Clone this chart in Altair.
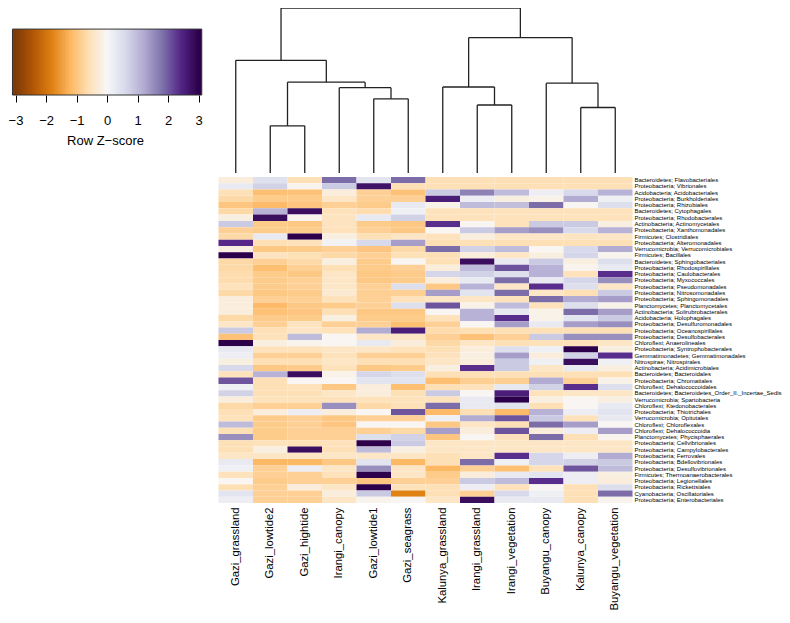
import altair as alt
import pandas as pd
import numpy as np

samples = ["Gazi_grassland", "Gazi_lowtide2", "Gazi_hightide", "Irangi_canopy",
           "Gazi_lowtide1", "Gazi_seagrass", "Kalunya_grassland", "Irangi_grassland",
           "Irangi_vegetation", "Buyangu_canopy", "Kalunya_canopy", "Buyangu_vegetation"]

taxa = [
    "Bacteroidetes; Flavobacteriales", "Proteobacteria; Vibrionales",
    "Acidobacteria; Acidobacteriales", "Proteobacteria; Burkholderiales",
    "Proteobacteria; Rhizobiales", "Bacteroidetes; Cytophagales",
    "Proteobacteria; Rhodobacterales", "Actinobacteria; Actinomycetales",
    "Proteobacteria; Xanthomonadales", "Firmicutes; Clostridiales",
    "Proteobacteria; Alteromonadales", "Verrucomicrobia; Verrucomicrobiales",
    "Firmicutes; Bacillales", "Bacteroidetes; Sphingobacteriales",
    "Proteobacteria; Rhodospirillales", "Proteobacteria; Caulobacterales",
    "Proteobacteria; Myxococcales", "Proteobacteria; Pseudomonadales",
    "Proteobacteria; Nitrosomonadales", "Proteobacteria; Sphingomonadales",
    "Planctomycetes; Planctomycetales", "Actinobacteria; Solirubrobacterales",
    "Acidobacteria; Holophagales", "Proteobacteria; Desulfuromonadales",
    "Proteobacteria; Oceanospirillales", "Proteobacteria; Desulfobacterales",
    "Chloroflexi; Anaerolineales", "Proteobacteria; Syntrophobacterales",
    "Gemmatimonadetes; Gemmatimonadales", "Nitrospirae; Nitrospirales",
    "Actinobacteria; Acidimicrobiales", "Bacteroidetes; Bacteroidales",
    "Proteobacteria; Chromatiales", "Chloroflexi; Dehalococcoidales",
    "Bacteroidetes; Bacteroidetes_Order_II._Incertae_Sedis", "Verrucomicrobia; Spartobacteria",
    "Chloroflexi; Ktedonobacterales", "Proteobacteria; Thiotrichales",
    "Verrucomicrobia; Opitutales", "Chloroflexi; Chloroflexales",
    "Chloroflexi; Dehalococcoidia", "Planctomycetes; Phycisphaerales",
    "Proteobacteria; Cellvibrionales", "Proteobacteria; Campylobacterales",
    "Proteobacteria; Ferrovales", "Proteobacteria; Bdellovibrionales",
    "Proteobacteria; Desulfovibrionales", "Firmicutes; Thermoanaerobacterales",
    "Proteobacteria; Legionellales", "Proteobacteria; Rickettsiales",
    "Cyanobacteria; Oscillatoriales", "Proteobacteria; Enterobacteriales",
]

zscores = [
    [-0.25, 0.45, -0.6, 1.85, 0.4, 1.85, -0.6, -0.6, -0.6, -0.6, -0.6, -0.6],
    [0.3, 0.7, -0.1, 0.8, 2.7, -0.6, -0.6, -0.6, -0.6, -0.6, -0.6, -0.6],
    [-0.6, -1.1, -1.05, -0.25, -0.84, -1.05, 0.8, 1.65, 1.0, 0.2, 0.6, 1.1],
    [-0.7, -0.92, -0.92, -0.45, -0.84, -0.84, 2.55, 0.2, -0.2, -0.13, 1.2, 0.15],
    [-1.0, -1.15, -1.0, -0.84, -0.92, 0.3, -0.13, 1.0, 0.95, 1.85, -0.05, 0.5],
    [-0.7, 1.1, 2.8, -0.55, -0.66, 0.15, -0.55, -0.55, -0.55, -0.55, -0.55, -0.55],
    [-0.2, 2.8, -0.1, -0.52, 0.3, 0.7, -0.55, -0.55, -0.55, -0.55, -0.55, -0.55],
    [0.8, -0.92, -0.96, -0.52, -0.92, -0.96, 2.35, -0.05, -0.55, 0.8, 0.8, -0.2],
    [-0.84, -0.92, -0.92, -0.55, -0.84, -0.96, -0.05, 0.8, 1.35, 1.5, 0.6, 1.1],
    [-0.7, 0.3, 3.0, -0.2, -0.6, -0.45, -0.55, -0.23, -0.45, -0.45, -0.5, -0.45],
    [2.4, -0.6, -0.55, 0.1, 0.6, 1.35, -0.6, -0.6, -0.6, -0.6, -0.6, -0.6],
    [-0.2, -0.96, -0.92, -0.84, -1.0, -0.7, 1.85, 0.7, 1.0, -0.05, 0.6, 1.2],
    [3.0, -0.52, -0.6, -0.7, -0.84, -0.6, -0.6, -0.25, -0.45, -0.2, 0.65, -0.1],
    [-0.7, -0.84, -0.7, -0.2, -0.92, -0.05, -0.6, 2.8, 0.3, 0.8, -0.2, 0.5],
    [-0.7, -1.1, -0.84, -0.6, -0.92, -0.84, -0.25, 1.0, 2.05, 1.1, -0.1, 0.25],
    [-0.66, -0.92, -0.96, -0.45, -0.96, -0.92, 0.65, 0.7, 0.5, 1.1, -0.55, 2.35],
    [-0.66, -0.92, -0.84, -0.45, -0.96, -0.92, -0.25, 0.3, 1.85, 0.3, 0.65, 1.5],
    [-0.55, -0.92, -0.84, -0.45, -0.84, 0.5, -0.96, 1.1, -0.45, 2.35, 0.5, -0.45],
    [-0.7, -0.96, -0.92, -0.35, -0.86, -0.84, 1.35, 0.4, 1.85, -0.45, -0.6, 0.8],
    [-0.25, -0.84, -0.84, -0.55, -0.84, -0.55, -0.45, -0.45, -0.55, 1.85, 1.2, 1.35],
    [-0.25, -1.15, -0.96, -0.92, -0.84, 0.5, 2.05, -0.13, 1.0, -0.55, 0.5, -0.13],
    [-0.25, -1.05, -1.0, -0.6, -0.96, -0.96, -0.05, 1.1, 0.3, -0.13, 1.85, 1.35],
    [-0.7, -0.92, -0.92, -0.2, -0.92, -0.92, -0.55, 1.1, 2.35, -0.13, 0.4, 0.8],
    [-0.45, -0.84, -0.52, -0.84, -0.84, -1.1, -0.84, -0.05, 1.35, 0.3, 1.35, 1.5],
    [0.8, -0.6, -0.45, -0.55, 1.2, 2.55, -0.66, -0.6, -0.6, -0.6, -0.6, -0.6],
    [-1.05, -0.55, 1.0, -0.05, -0.45, -0.45, -0.84, -1.05, -0.84, 0.8, 1.5, 1.5],
    [3.0, -0.2, -0.1, -0.05, 0.3, -0.25, -0.7, -0.45, -0.6, -0.55, -0.55, -0.45],
    [0.3, -0.55, -0.55, -0.45, -0.45, -0.55, -0.6, -0.25, 0.5, 0.15, 3.0, -0.2],
    [0.2, -0.84, -0.84, -0.55, -0.84, -0.84, -0.55, -0.2, 1.35, -0.25, 0.7, 2.35],
    [-0.2, -0.6, -0.6, -0.45, -0.6, -0.6, -0.45, -0.25, 0.8, 0.15, 2.8, 0.15],
    [0.6, -0.96, -0.92, -0.55, -0.96, -0.92, -0.2, 2.35, 0.8, -0.45, 0.3, -0.2],
    [-0.55, 1.1, 2.8, -0.13, 0.65, 0.5, -0.6, -0.6, -0.6, -0.6, -0.6, -0.6],
    [2.05, -0.6, -0.05, -0.05, 0.4, 0.4, -1.1, -0.86, -0.86, 1.2, -0.84, -0.13],
    [0.15, -0.6, -0.55, -0.96, -0.25, -1.1, -0.6, -0.55, 0.3, 0.7, 2.35, 0.5],
    [0.7, -0.6, -0.6, -0.45, -0.25, -0.6, 0.8, -0.05, 2.55, -0.55, -0.45, -0.45],
    [-0.25, -0.55, -0.55, -0.55, -0.55, -0.55, -0.55, 0.3, 3.0, -0.2, -0.05, -0.2],
    [-0.7, -0.84, -0.84, 1.5, -0.7, -0.6, 1.85, 0.3, 0.4, -0.6, -0.05, 0.3],
    [-0.6, -0.25, 0.2, -0.25, -0.05, 2.05, -1.15, -0.6, -1.15, 1.1, 0.2, 0.4],
    [-0.55, -0.92, -0.84, -0.96, -0.84, -0.84, 0.15, 1.2, 2.05, 0.8, -0.55, 0.3],
    [1.0, -0.92, -0.84, -1.0, -0.05, -0.05, -0.96, -0.45, -0.6, 1.85, 1.35, -0.05],
    [-0.6, -0.92, -0.84, -0.84, -0.84, -0.7, 1.35, -0.25, 2.05, -0.25, 0.2, 1.35],
    [1.5, -0.92, -0.84, -0.84, 0.5, 0.7, -1.0, -0.05, -0.55, 1.85, -0.6, -0.1],
    [-0.6, -0.55, -0.6, -0.55, 3.0, 0.8, -0.45, -0.45, -0.45, -0.45, -0.45, -0.45],
    [-0.6, -0.2, 2.8, -0.6, 1.0, -0.2, -0.45, -0.45, -0.45, -0.45, -0.45, -0.45],
    [-0.45, -0.45, -0.45, -0.45, -0.45, -0.45, -0.6, -0.45, 2.35, 0.65, 0.2, 1.2],
    [0.3, -1.2, -1.2, -0.96, 0.4, -1.2, -0.6, 1.85, 0.15, 0.65, 0.7, 0.8],
    [0.15, -0.84, 0.2, -0.45, 1.5, -0.45, -1.2, -0.84, -1.1, -0.55, 2.05, 1.0],
    [-0.55, -0.84, -0.84, -0.55, 3.0, -0.45, -0.92, -0.25, 0.3, 0.4, 0.2, -0.2],
    [-0.05, -0.92, -0.84, -0.84, -1.0, -0.84, -0.84, 0.8, 1.0, 2.35, 0.2, -0.25],
    [-0.6, -0.84, -0.25, -0.45, 3.0, -0.55, -0.6, 0.2, -0.55, -0.05, -0.6, 0.5],
    [0.4, -0.84, -0.84, -0.25, 0.8, -1.8, -0.6, -0.84, 0.6, 0.15, -0.6, 1.85],
    [0.2, -0.84, -0.84, -0.45, -0.1, -0.05, -0.45, 2.8, 0.3, 0.3, -0.6, -0.1],
]

# column dendrogram: (left, right, height); integers refer to earlier merges (1-based)
merges = [
    ("Gazi_lowtide2", "Gazi_hightide", 4.90),
    ("Gazi_lowtide1", "Gazi_seagrass", 7.70),
    ("Irangi_canopy", 2, 8.86),
    (1, 3, 9.43),
    ("Gazi_grassland", 4, 11.70),
    ("Irangi_grassland", "Irangi_vegetation", 7.06),
    ("Kalunya_grassland", 6, 8.93),
    ("Kalunya_canopy", "Buyangu_vegetation", 6.80),
    ("Buyangu_canopy", 8, 9.33),
    (7, 9, 14.06),
    (5, 10, 17.13),
]

pu_or = ["#7f3b08", "#b35806", "#e08214", "#fdb863", "#fee0b6", "#f7f7f7",
         "#d8daeb", "#b2abd2", "#8073ac", "#542788", "#2d004b"]
color_domain = list(np.linspace(-3, 3, len(pu_or)))
color_scale = alt.Scale(domain=color_domain, range=pu_or, interpolate="rgb", clamp=True)

FONT = "Liberation Sans"
NOVIEW = alt.ViewBackground(stroke=None, strokeWidth=0)

# ---------- heatmap ----------
heat_rows = []
for taxon, row in zip(taxa, zscores):
    for sample, v in zip(samples, row):
        heat_rows.append({"taxon": taxon, "sample": sample, "z": v})
heat_df = pd.DataFrame(heat_rows)

heat = alt.Chart(heat_df).mark_rect(strokeWidth=0).encode(
    x=alt.X("sample:N", sort=samples, title=None,
            axis=alt.Axis(orient="bottom", labelAngle=-90, ticks=False, domain=False,
                          labelFontSize=11.3, labelPadding=4, labelColor="black",
                          labelFont=FONT, labelLimit=200)),
    y=alt.Y("taxon:N", sort=taxa, title=None,
            axis=alt.Axis(orient="right", ticks=False, domain=False, labelFontSize=6.0,
                          labelPadding=1.5, labelColor="black", labelFont=FONT,
                          labelLimit=400)),
    color=alt.Color("z:Q", scale=color_scale, legend=None),
).properties(width=414, height=326, view=NOVIEW)

# ---------- dendrogram ----------
pos = {s: (i + 0.5, 0.0) for i, s in enumerate(samples)}
segs = []
for k, (a, b, h) in enumerate(merges, start=1):
    xa, ha = pos[a]
    xb, hb = pos[b]
    segs.append({"x": xa, "x2": xa, "y": ha, "y2": h})
    segs.append({"x": xb, "x2": xb, "y": hb, "y2": h})
    segs.append({"x": xa, "x2": xb, "y": h, "y2": h})
    pos[k] = ((xa + xb) / 2, h)
seg_df = pd.DataFrame(segs)

dendro = alt.Chart(seg_df).mark_rule(color="#222222", strokeWidth=1.3).encode(
    x=alt.X("x:Q", scale=alt.Scale(domain=[0, len(samples)], nice=False, zero=False), axis=None),
    x2="x2:Q",
    y=alt.Y("y:Q", scale=alt.Scale(domain=[0, merges[-1][2]], nice=False), axis=None),
    y2="y2:Q",
).properties(width=414, height=165, view=NOVIEW)

# ---------- colour key ----------
key_lo, key_hi = -3.1, 3.1
step = 0.05
starts = np.arange(key_lo, key_hi - 1e-9, step)
key_df = pd.DataFrame({
    "z": starts,
    "z2": np.minimum(starts + step * 1.6, key_hi),
    "zc": starts + step / 2,
    "y0": 0.0,
    "y1": 1.0,
})
box_df = pd.DataFrame({"z": [key_lo], "z2": [key_hi], "y0": [0.0], "y1": [1.0]})

key_x = alt.X("z:Q", scale=alt.Scale(domain=[-3.246, 3.108], nice=False, zero=False),
              axis=alt.Axis(values=[-3, -2, -1, 0, 1, 2, 3], title="Row Z\u2212score",
                            tickSize=7, tickColor="black", domain=False, grid=False,
                            labelFontSize=13, labelColor="black", labelPadding=12,
                            labelFont=FONT, titleFont=FONT, titleFontSize=13,
                            titleFontWeight="normal", titleColor="black", titlePadding=7,
                            format="d"))
key_y = alt.Y("y0:Q", scale=alt.Scale(domain=[0, 1.32], nice=False), axis=None)

key_fill = alt.Chart(key_df).mark_rect(strokeWidth=0).encode(
    x=key_x, x2="z2:Q", y=key_y, y2="y1:Q",
    color=alt.Color("zc:Q", scale=color_scale, legend=None),
)
key_box = alt.Chart(box_df).mark_rect(fillOpacity=0, stroke="#333333", strokeWidth=1).encode(
    x=key_x, x2="z2:Q", y=key_y, y2="y1:Q",
)
key = alt.layer(key_fill, key_box).properties(width=194, height=87, view=NOVIEW)

right = alt.vconcat(dendro, heat, spacing=4, bounds="flush")
chart = alt.hconcat(key, right, spacing=16.5, bounds="flush").properties(
    autosize=alt.AutoSizeParams(type="none"),
    padding={"left": 0, "top": 0, "right": 774, "bottom": 606},
)
chart = chart.configure_view(stroke=None, strokeWidth=0).configure(font=FONT, background="white")

chart.save("out.html", embed_options={"renderer": "svg", "actions": False})
